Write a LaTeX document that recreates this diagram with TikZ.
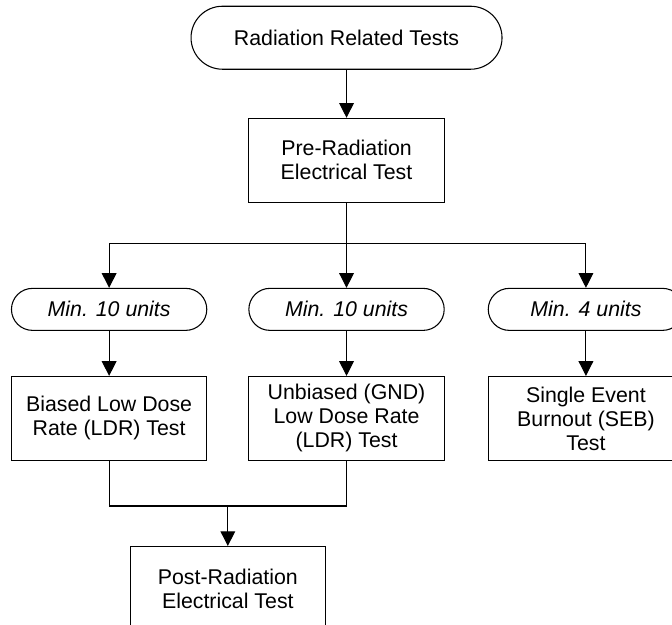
\documentclass[tikz,border=0pt]{standalone}
\usepackage{fontspec}
\setmainfont{Liberation Sans}
\usetikzlibrary{positioning,arrows.meta}

\begin{document}
\begin{tikzpicture}[line width=0.8pt,
        every node/.style={font=\fontsize{16}{18}\selectfont},
        term/.style={rectangle, draw, rounded corners=23.6pt, minimum width=233.25pt, minimum height=47.25pt},
        proc/.style={rectangle, draw, align=center, minimum width=146.5pt, minimum height=63pt, inner sep=2pt},
        units/.style={rectangle, draw, rounded corners=15.75pt, minimum width=146.5pt, minimum height=31.5pt, font=\fontsize{16}{18}\selectfont\itshape},
        flow/.style={-{Triangle[width=11pt,length=11pt]}}]
        \useasboundingbox (0,0) rectangle (504pt,-468.75pt);

        \node[term] (start) at (259.9pt,-28.3pt) {Radiation Related Tests};
        \node[proc, below=36pt of start] (pre) {Pre-Radiation\\Electrical Test};

        \node[units, below=63.75pt of pre] (unitsB) {Min. 10 units};
        \node[units, left=30.75pt of unitsB] (unitsA) {Min. 10 units};
        \node[units, right=32.25pt of unitsB] (unitsC) {Min. 4 units};

        \node[proc, below=33.75pt of unitsA] (ldr) {Biased Low Dose\\Rate (LDR) Test};
        \node[proc, below=33.75pt of unitsB] (gnd) {Unbiased (GND)\\Low Dose Rate\\(LDR) Test};
        \node[proc, below=33.75pt of unitsC] (seb) {Single Event\\Burnout (SEB)\\Test};

        \path (ldr.south) -- (gnd.south) coordinate[pos=0.5] (mid);
        \coordinate[below=30.75pt of pre.south] (split);
        \coordinate[below=33.75pt of mid] (merge);
        \node[proc, below=63.75pt of mid] (post) {Post-Radiation\\Electrical Test};

        \draw[flow] (start) -- (pre);
        \draw[flow] (pre) -- (unitsB);
        \draw[flow] (split) -| (unitsA);
        \draw[flow] (split) -| (unitsC);
        \draw[flow] (unitsA) -- (ldr);
        \draw[flow] (unitsB) -- (gnd);
        \draw[flow] (unitsC) -- (seb);
        \draw (ldr) |- (merge) -| (gnd);
        \draw[flow] (merge) -- (post);
        %\draw (seb) |- (merge);
\end{tikzpicture}
\end{document}
